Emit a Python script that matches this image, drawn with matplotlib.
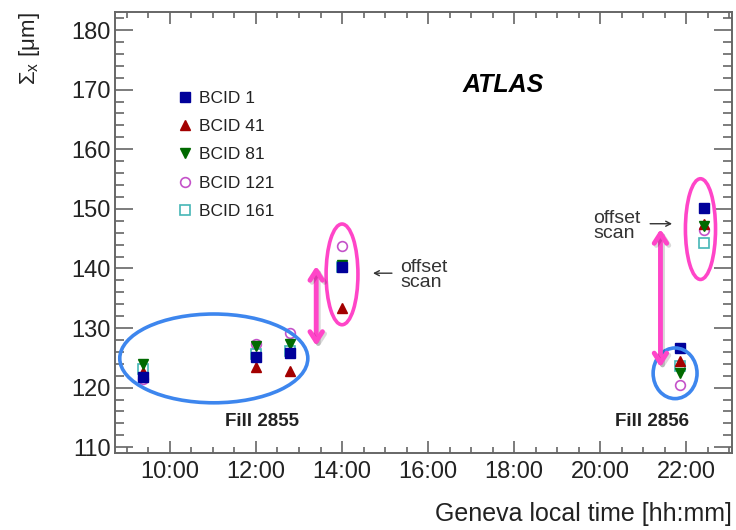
import numpy as np
import matplotlib
matplotlib.use("Agg")
import matplotlib.pyplot as plt
from matplotlib.patches import Ellipse
from matplotlib.ticker import MultipleLocator, FuncFormatter
import matplotlib.patheffects as pe

plt.rcParams['font.family'] = ['Liberation Sans', 'DejaVu Sans']
plt.rcParams['mathtext.fontset'] = 'custom'
plt.rcParams['mathtext.rm'] = 'Liberation Sans'
plt.rcParams['mathtext.it'] = 'Liberation Sans:italic'

# measurement times (decimal hours, Geneva local time)
times = [9.37, 12.0, 12.8, 14.0, 21.85, 22.42]

# Sigma_x [um] per bunch
bcid1 = [121.8, 125.2, 125.8, 140.3, 126.6, 150.1]
bcid41 = [122.6, 123.5, 122.8, 133.4, 124.4, 147.4]
bcid81 = [124.0, 126.9, 127.3, 140.5, 122.4, 147.2]
bcid121 = [121.4, 127.3, 129.2, 143.8, 120.5, 146.4]
bcid161 = [123.1, 125.6, 126.2, 140.2, 123.6, 144.2]

labels = ['BCID 1', 'BCID 41', 'BCID 81', 'BCID 121', 'BCID 161']
xticks = [10, 12, 14, 16, 18, 20, 22]

fig = plt.figure(figsize=(7.36, 5.30), dpi=100)
ax = fig.add_axes([0.156, 0.145, 0.839, 0.832])

ax.plot(times, bcid121, 'o', ms=7, mfc='none', mec='#c452c9', mew=1.2, label=labels[3], zorder=3)
ax.plot(times, bcid161, 's', ms=7, mfc='none', mec='#46b6b6', mew=1.2, label=labels[4], zorder=3)
ax.plot(times, bcid41, '^', ms=7, color='#a30000', label=labels[1], zorder=4)
ax.plot(times, bcid81, 'v', ms=7, color='#006a00', label=labels[2], zorder=4)
ax.plot(times, bcid1, 's', ms=6.5, color='#00009a', label=labels[0], zorder=5)

handles, labs = ax.get_legend_handles_labels()
order = [labs.index(l) for l in labels]
ax.legend([handles[i] for i in order], labels, loc='upper left',
          bbox_to_anchor=(0.075, 0.858), frameon=False, fontsize=12.5,
          handletextpad=0.3, labelspacing=0.76, handlelength=1.0,
          labelcolor='#222222')

ax.set_xlim(8.72, 23.07)
ax.set_ylim(109, 183)
ax.xaxis.set_major_locator(plt.FixedLocator(xticks))
ax.xaxis.set_minor_locator(MultipleLocator(0.5))
ax.xaxis.set_major_formatter(FuncFormatter(lambda v, p: f'{int(round(v)):02d}:00'))
ax.yaxis.set_major_locator(MultipleLocator(10))
ax.yaxis.set_minor_locator(MultipleLocator(2))

for s in ax.spines.values():
    s.set_color('#666666')
    s.set_linewidth(1.4)
ax.tick_params(which='both', direction='in', top=True, right=True,
               color='#666666', width=1.2, labelcolor='#222222')
ax.tick_params(axis='y', which='major', length=13, labelsize=17, pad=3)
ax.tick_params(axis='y', which='minor', length=6.5)
ax.tick_params(axis='x', which='major', length=8.6, labelsize=17, pad=6)
ax.tick_params(axis='x', which='minor', length=4.3)

ax.set_xlabel('Geneva local time [hh:mm]', fontsize=18, loc='right', color='#222222', labelpad=13)
ax.set_ylabel(r'$\Sigma_{\rm x}$ [μm]', fontsize=16, loc='top', color='#222222', labelpad=21)

ax.text(0.629, 0.834, 'ATLAS', transform=ax.transAxes, fontsize=18,
        fontweight='bold', style='italic', ha='center', va='center')
ax.text(12.15, 114.3, 'Fill 2855', fontsize=13.5, fontweight='bold', ha='center', va='center', color='#222222')
ax.text(21.2, 114.3, 'Fill 2856', fontsize=13.5, fontweight='bold', ha='center', va='center', color='#222222')

txt = '#333333'
ax.annotate('', xy=(14.72, 139.2), xytext=(15.16, 139.2),
            arrowprops=dict(arrowstyle='->,head_length=0.35,head_width=0.18',
                            color=txt, lw=1.0, shrinkA=0, shrinkB=0))
ax.text(15.35, 138.9, 'offset\nscan', fontsize=14, ha='left', va='center',
        color=txt, linespacing=0.85)
ax.text(19.84, 147.1, 'offset\nscan', fontsize=14, ha='left', va='center',
        color=txt, linespacing=0.85, multialignment='left')
ax.annotate('', xy=(21.67, 147.5), xytext=(21.16, 147.5),
            arrowprops=dict(arrowstyle='->,head_length=0.35,head_width=0.18',
                            color=txt, lw=1.0, shrinkA=0, shrinkB=0))

# highlight overlays
pink = '#ff45c8'
blue = '#3d86ee'
for cx, cy, w, h, c in [(11.02, 124.9, 4.37, 14.9, blue),
                        (21.74, 122.4, 1.02, 8.5, blue),
                        (14.0, 139.0, 0.74, 16.9, pink),
                        (22.33, 146.6, 0.70, 16.9, pink)]:
    ax.add_patch(Ellipse((cx, cy), w, h, fill=False, ec=c, lw=2.6, zorder=6))

shadow = [pe.SimpleLineShadow(offset=(1.5, -1.5), alpha=0.15), pe.Normal()]
for x0, y0, y1 in [(13.4, 140.4, 127.0), (21.4, 146.6, 123.4)]:
    ax.annotate('', xy=(x0, y1), xytext=(x0, y0),
                arrowprops=dict(arrowstyle='<->,head_length=0.7,head_width=0.45',
                                color=pink, lw=3.5, shrinkA=0, shrinkB=0,
                                path_effects=shadow), zorder=7)

fig.savefig('out.png', dpi=100)
